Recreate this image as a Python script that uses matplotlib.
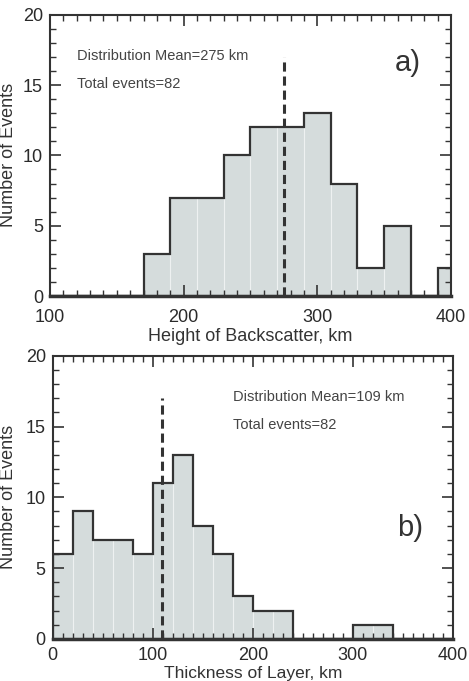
import matplotlib.pyplot as plt
import numpy as np

plt.rcParams['font.family'] = ['Liberation Sans', 'DejaVu Sans']

# panel a: height of backscatter, 20 km bins
height_edges = [90, 110, 130, 150, 170, 190, 210, 230, 250, 270, 290, 310,
                330, 350, 370, 390, 410]
height_counts = [0, 0, 0, 0, 3, 7, 7, 10, 12, 12, 13, 8, 2, 5, 0, 2]
height_mean = 275

# panel b: thickness of layer, 20 km bins
thick_edges = [0, 20, 40, 60, 80, 100, 120, 140, 160, 180, 200, 220, 240,
               260, 280, 300, 320, 340, 360, 380, 400]
thick_counts = [6, 9, 7, 7, 6, 11, 13, 8, 6, 3, 2, 2, 0, 0, 0, 1, 1, 0, 0, 0]
thick_mean = 109

total_events = 82

FILL = '#d5dcdc'
LINE = '#333333'


def draw_hist(ax, edges, counts, mean, xlim, xlabel, panel, text_x, panel_y,
              xpad=9, xlabel_size=13):
    edges = np.array(edges)
    counts = np.array(counts)
    ax.stairs(counts, edges, fill=True, color=FILL, zorder=1)
    # faint bin separators inside the fill
    for e, lo, hi in zip(edges[1:-1], counts[:-1], counts[1:]):
        ax.plot([e, e], [0, min(lo, hi)], color='#eef1f1', lw=0.8, zorder=1.5)
    ax.stairs(counts, edges, color=LINE, lw=1.6, zorder=3)
    ax.plot([xlim[0], xlim[1]], [0, 0], color=LINE, lw=2.5, zorder=3, clip_on=False)
    ax.plot([mean, mean], [0, 17], color=LINE, lw=2.2, ls=(0, (3, 1.6)), zorder=4)

    ax.set_xlim(*xlim)
    ax.set_ylim(0, 20)
    ax.set_xticks(np.arange(xlim[0], xlim[1] + 1, 100))
    ax.set_xticks(np.arange(xlim[0], xlim[1] + 1, 10), minor=True)
    ax.set_yticks([0, 5, 10, 15, 20])
    ax.set_yticks(np.arange(0, 21, 1), minor=True)
    ax.tick_params(which='both', direction='in', top=True, right=True,
                   color=LINE, labelsize=13, labelcolor='#2a2a2a')
    ax.tick_params(which='major', length=8, width=1.2)
    ax.tick_params(axis='x', which='major', pad=xpad)
    ax.tick_params(axis='y', which='major', pad=5)
    ax.tick_params(which='minor', length=4, width=1.0)
    for s in ax.spines.values():
        s.set_color(LINE)
        s.set_linewidth(1.5)
    ax.set_xlabel(xlabel, fontsize=xlabel_size, color='#333333')
    ax.set_ylabel('Number of Events', fontsize=13, color='#333333')

    ax.text(text_x, 17.1, f'Distribution Mean={mean} km', fontsize=10.5,
            color='#444444', va='center')
    ax.text(text_x, 15.1, f'Total events={total_events}', fontsize=10.5,
            color='#444444', va='center')
    ax.text(0.925, panel_y, panel, transform=ax.transAxes, fontsize=21,
            color='#333333', ha='right', va='center')


fig = plt.figure(figsize=(4.69, 6.81), dpi=100)
ax_a = fig.add_axes([0.1066, 0.5653, 0.855, 0.4131])
ax_b = fig.add_axes([0.1124, 0.0617, 0.8535, 0.416])

draw_hist(ax_a, height_edges, height_counts, height_mean, (100, 400),
          'Height of Backscatter, km', 'a)', 120, 0.83)
draw_hist(ax_b, thick_edges, thick_counts, thick_mean, (0, 400),
          'Thickness of Layer, km', 'b)', 180, 0.39, xpad=6, xlabel_size=12.5)

# place axis labels where the reference has them
ax_a.yaxis.set_label_coords(-0.082, 0.5)
ax_b.yaxis.set_label_coords(-0.089, 0.5)
ax_a.xaxis.set_label_coords(0.5, -0.114)
ax_b.xaxis.set_label_coords(0.5, -0.097)

fig.savefig('out.png', dpi=100, facecolor='white')
